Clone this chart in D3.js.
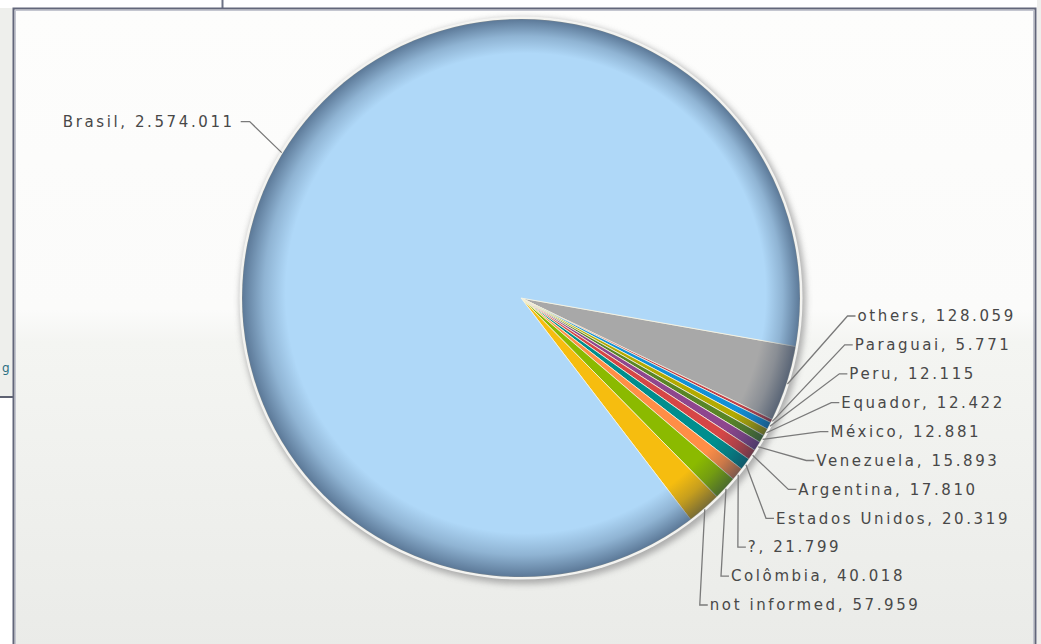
<!DOCTYPE html>
<html>
<head>
<meta charset="utf-8">
<script src="https://cdn.jsdelivr.net/npm/d3@7"></script>
<style>
  html, body { margin: 0; padding: 0; background: #ffffff; overflow: hidden; }
  svg { display: block; }
</style>
</head>
<body>
<svg id="chart" width="1041" height="644"></svg>
<script>
// Visits by country (clockwise order, starting just below 3 o'clock)
const countries = ["others", "Paraguai", "Peru", "Equador", "México", "Venezuela",
  "Argentina", "Estados Unidos", "?", "Colômbia", "not informed", "Brasil"];
const visits = [128059, 5771, 12115, 12422, 12881, 15893,
  17810, 20319, 21799, 40018, 57959, 2574011];
const sliceColors = ["#A8A8A8", "#C2404A", "#1191D8", "#B3AA00", "#588526", "#8E468E",
  "#D64646", "#008E8E", "#FF8E46", "#8BBA00", "#F6BD0F", "#AFD8F8"];

const W = 1041, H = 644;
const svg = d3.select("#chart");
const defs = svg.append("defs");

// Brazilian number formatting: 2.574.011
const ptBR = d3.formatLocale({ decimal: ",", thousands: ".", grouping: [3], currency: ["R$", ""] });
const fmt = ptBR.format(",d");

// ---- page furniture ----
svg.append("rect").attr("width", W).attr("height", H).attr("fill", "#FFFFFF");
svg.append("rect").attr("x", 1037).attr("y", 0).attr("width", 4).attr("height", H).attr("fill", "#EEEEEC");

// side panel on the left
svg.append("rect").attr("x", 0).attr("y", 8).attr("width", 13).attr("height", 389).attr("fill", "#EEEFEC");
svg.append("line").attr("x1", 0).attr("x2", 13).attr("y1", 397).attr("y2", 397)
  .attr("stroke", "#5E6272").attr("stroke-width", 2);
svg.append("text").attr("x", 2).attr("y", 372).text("g")
  .attr("font-family", "DejaVu Sans, Verdana, sans-serif").attr("font-size", 12)
  .attr("fill", "#2D7082");
svg.append("line").attr("x1", 222.5).attr("x2", 222.5).attr("y1", 0).attr("y2", 8)
  .attr("stroke", "#6D7285").attr("stroke-width", 2);

// chart panel background gradient
const bg = defs.append("linearGradient").attr("id", "panelBg")
  .attr("x1", 0).attr("y1", 0).attr("x2", 0).attr("y2", 1);
bg.append("stop").attr("offset", "0").attr("stop-color", "#FDFDFC");
bg.append("stop").attr("offset", "0.47").attr("stop-color", "#FBFBFA");
bg.append("stop").attr("offset", "0.52").attr("stop-color", "#F4F5F2");
bg.append("stop").attr("offset", "1").attr("stop-color", "#EAEBE8");

svg.append("rect").attr("x", 14).attr("y", 9).attr("width", 1021).attr("height", 640)
  .attr("fill", "url(#panelBg)");
svg.append("rect").attr("x", 15.5).attr("y", 10.5).attr("width", 1018).attr("height", 700)
  .attr("fill", "none").attr("stroke", "#C4C6D0").attr("stroke-width", 1);
svg.append("rect").attr("x", 13.5).attr("y", 8.5).attr("width", 1022).attr("height", 700)
  .attr("fill", "none").attr("stroke", "#62667A").attr("stroke-width", 2);

// ---- pie ----
const cx = 521, cy = 298, r = 279;
const g = svg.append("g").attr("transform", `translate(${cx},${cy})`);

const shadow = defs.append("filter").attr("id", "pieShadow")
  .attr("x", "-10%").attr("y", "-10%").attr("width", "120%").attr("height", "120%");
shadow.append("feGaussianBlur").attr("stdDeviation", 3);

g.append("circle").attr("cx", 2).attr("cy", 3).attr("r", r + 4)
  .attr("fill", "#9C9C9C").attr("opacity", 0.8).attr("filter", "url(#pieShadow)");
g.append("circle").attr("r", r + 2.5).attr("fill", "#F3F3F1");

const pie = d3.pie().sort(null).value(d => d)
  .startAngle(100 * Math.PI / 180).endAngle(460 * Math.PI / 180);
const arcs = pie(visits);
const arc = d3.arc().innerRadius(0).outerRadius(r);

g.selectAll("path.slice").data(arcs).join("path")
  .attr("class", "slice")
  .attr("d", arc)
  .attr("fill", (d, i) => sliceColors[i])
  .attr("stroke", "#FAF6E4").attr("stroke-opacity", 0.85).attr("stroke-width", 0.9)
  .attr("stroke-linejoin", "round");

// rim shading over all slices
const rim = defs.append("radialGradient").attr("id", "rimShade")
  .attr("cx", "50%").attr("cy", "50%").attr("r", "50%").attr("fx", "56%").attr("fy", "44%");
rim.append("stop").attr("offset", "0").attr("stop-color", "#1E3250").attr("stop-opacity", 0);
rim.append("stop").attr("offset", "0.86").attr("stop-color", "#1E3250").attr("stop-opacity", 0);
rim.append("stop").attr("offset", "0.93").attr("stop-color", "#1E3250").attr("stop-opacity", 0.22);
rim.append("stop").attr("offset", "0.985").attr("stop-color", "#1E3250").attr("stop-opacity", 0.5);
rim.append("stop").attr("offset", "1").attr("stop-color", "#1E3250").attr("stop-opacity", 0.58);
g.append("circle").attr("r", r).attr("fill", "url(#rimShade)").attr("pointer-events", "none");

// ---- labels with leader lines ----
const labelFont = "DejaVu Sans, Verdana, sans-serif";
const leaders = g.append("g").attr("fill", "none").attr("stroke", "#7A7A7A").attr("stroke-width", 1.3);
const texts = g.append("g").attr("font-family", labelFont).attr("font-size", 15)
  .attr("letter-spacing", "2.6px").attr("fill", "#484848");

const rightCount = arcs.length - 1;
const rowTop = 316 - cy, rowStep = 28.9, labelRadius = 337;

arcs.forEach((d, i) => {
  const mid = (d.startAngle + d.endAngle) / 2;
  const rx = Math.sin(mid) * (r + 1), ry = -Math.cos(mid) * (r + 1);
  const text = `${countries[i]}, ${fmt(visits[i])}`;
  if (i < rightCount) {
    const ly = rowTop + i * rowStep;
    const lx = Math.max(Math.sqrt(Math.max(0, labelRadius * labelRadius - ly * ly)), rx + 5);
    leaders.append("polyline")
      .attr("points", [[rx, ry], [lx - 10, ly], [lx - 2, ly]].map(p => p.join(",")).join(" "));
    texts.append("text").attr("x", lx).attr("y", ly).attr("dy", "0.35em").text(text);
  } else {
    const ly = ry - 31, lx = rx - 50;
    leaders.append("polyline")
      .attr("points", [[rx, ry], [rx - 32, ly], [rx - 41, ly]].map(p => p.join(",")).join(" "));
    texts.append("text").attr("x", lx + 3).attr("y", ly).attr("dy", "0.35em")
      .attr("text-anchor", "end").text(text);
  }
});
</script>
</body>
</html>
